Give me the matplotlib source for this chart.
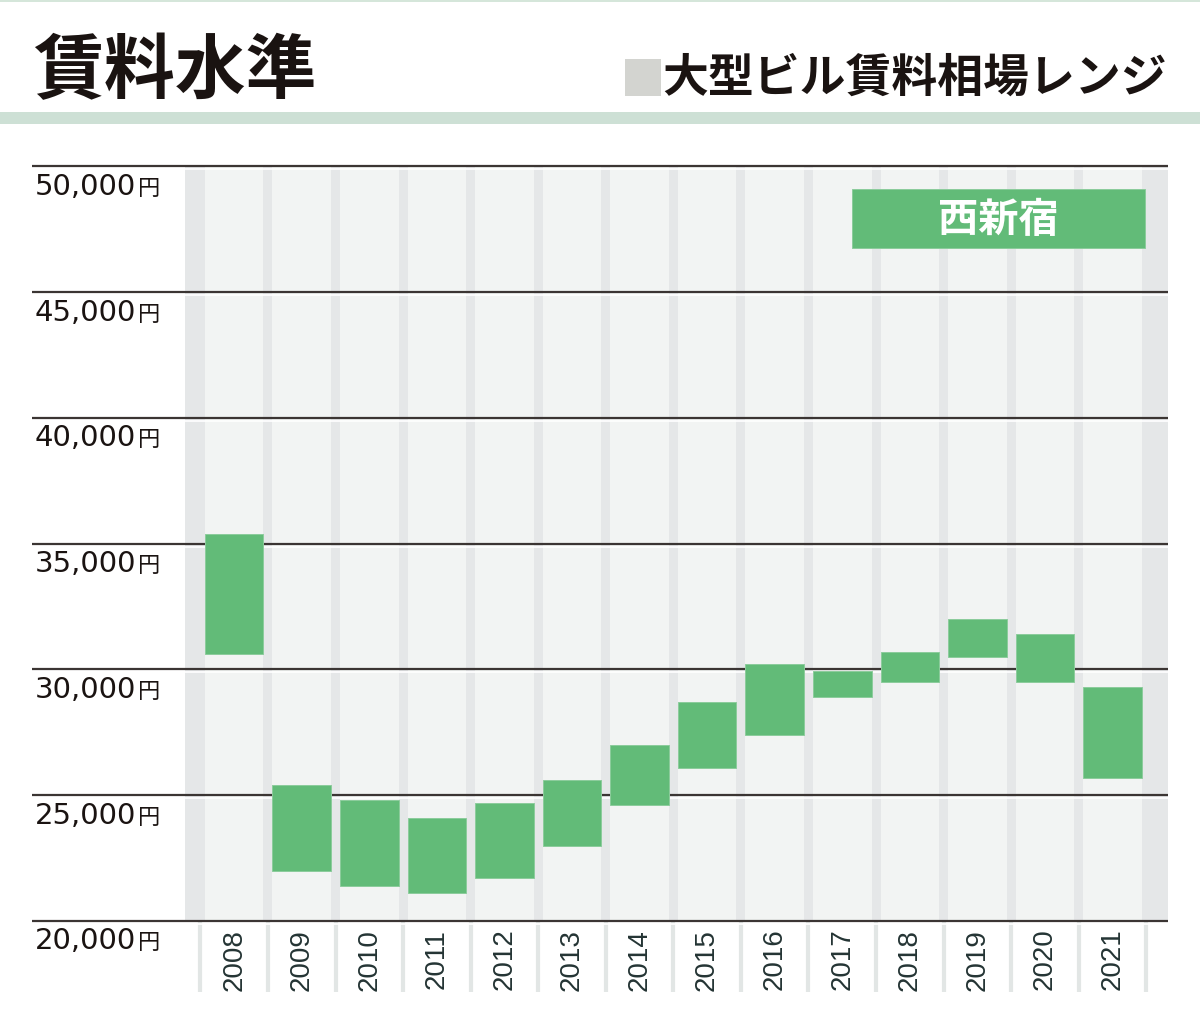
import matplotlib
matplotlib.use("Agg")
import matplotlib.pyplot as plt
import matplotlib.patches as mpatches
from matplotlib import transforms

# ── データ ─────────────────────────────────────────
years = [2008, 2009, 2010, 2011, 2012, 2013, 2014,
         2015, 2016, 2017, 2018, 2019, 2020, 2021]
rent_low = [30600, 22000, 21400, 21100, 21700, 23000, 24600,
            26100, 27400, 28900, 29500, 30500, 29500, 25700]
rent_high = [35400, 25400, 24800, 24100, 24700, 25600, 27000,
             28700, 30200, 29950, 30700, 32000, 31400, 29300]
y_ticks = [20000, 25000, 30000, 35000, 40000, 45000, 50000]

title = "賃料水準"
legend_label = "大型ビル賃料相場レンジ"
area_label = "西新宿"

# ── 色 ───────────────────────────────────────────
C_BAR = "#62bb78"
C_COL = "#f2f4f3"
C_STRIPE = "#e5e7e8"
C_GRID = "#3b3533"
C_TEXT = "#1a1311"
C_YEAR = "#243434"
C_BAND = "#cde0d5"

JP = ["Noto Sans CJK JP", "DejaVu Sans"]

fig = plt.figure(figsize=(12, 10.22), dpi=100, facecolor="white")
W, H = 1200, 1022

# ── ヘッダー ──────────────────────────────────────
fig.add_artist(mpatches.Rectangle((0, 1 - 2 / H), 1, 2 / H, color="#d5e6da",
                                  transform=fig.transFigure, lw=0))
fig.add_artist(mpatches.Rectangle((0, 1 - 124 / H), 1, 12 / H, color=C_BAND,
                                  transform=fig.transFigure, lw=0))
fig.text(33 / W, 1 - 72 / H, title, fontsize=51, fontweight="bold",
         family=JP, color=C_TEXT, ha="left", va="center")
fig.add_artist(mpatches.Rectangle((625 / W, 1 - 96 / H), 36 / W, 37 / H,
                                  color="#d3d4d0", transform=fig.transFigure, lw=0))
fig.text(1167 / W, 1 - 79 / H, legend_label, fontsize=33, fontweight="bold",
         family=JP, color=C_TEXT, ha="right", va="center")

# ── 本体 ─────────────────────────────────────────
ax = fig.add_axes([185 / W, 101 / H, 983.3 / W, 754.5 / H])
ax.set_facecolor(C_STRIPE)
xs = list(range(len(years)))
bw = 0.867

# 列の背景
ax.bar(xs, y_ticks[-1] - y_ticks[0], bottom=y_ticks[0], width=bw,
       color=C_COL, linewidth=0, zorder=0.5)

# 横線 (左のラベル部分まで伸ばす)
off = transforms.ScaledTranslation(0, -3 / 100, fig.dpi_scale_trans)
for v in y_ticks:
    ax.plot([0, 1], [v, v], transform=ax.get_yaxis_transform() + off,
            color="white", lw=1.2, zorder=1, clip_on=False)
    ax.plot([-0.156, 1], [v, v], transform=ax.get_yaxis_transform(),
            color=C_GRID, lw=1.6, zorder=1.2, clip_on=False,
            solid_capstyle="butt")

# 相場レンジの棒
heights = [h - l for l, h in zip(rent_low, rent_high)]
ax.bar(xs, heights, bottom=rent_low, width=bw, color=C_BAR,
       edgecolor="#8ccc9c", linewidth=0.7, zorder=2)

ax.set_xlim(-0.728, len(years) - 1 + 0.826)
ax.set_ylim(y_ticks[0], y_ticks[-1])

# 軸下の縦ストライプ
ax.vlines([i - 0.5 for i in range(len(years) + 1)], -0.094, 0,
          transform=ax.get_xaxis_transform(), color="#e2e6e5", lw=3,
          clip_on=False, zorder=0)

# x 目盛
ax.set_xticks(xs)
ax.set_xticklabels([str(y) for y in years], rotation=90, fontsize=20,
                   family="Liberation Sans", color=C_YEAR)
ax.tick_params(axis="x", length=0, pad=5.5)
ax.set_yticks([])
for s in ax.spines.values():
    s.set_visible(False)

# y ラベル (線の下に配置)
for v in y_ticks:
    ax.annotate(f"{v:,}", xy=(-0.1525, v), xycoords=("axes fraction", "data"),
                xytext=(0, -20.5), textcoords="offset points",
                fontsize=21, family="DejaVu Sans", color=C_TEXT,
                ha="left", va="baseline", annotation_clip=False)
    ax.annotate("円", xy=(-0.0475, v), xycoords=("axes fraction", "data"),
                xytext=(0, -20.5), textcoords="offset points",
                fontsize=16, family=JP, color=C_TEXT,
                ha="left", va="baseline", annotation_clip=False)

# 凡例ボックス
ax.add_patch(mpatches.Rectangle((0.678, 0.892), 0.298, 0.078,
                                transform=ax.transAxes, color=C_BAR,
                                ec="#8ccc9c", lw=0.7, zorder=3))
ax.text(0.827, 0.929, area_label, transform=ax.transAxes, fontsize=29,
        fontweight="bold", family=JP, color="white",
        ha="center", va="center", zorder=4)

fig.savefig("out.png", dpi=100, facecolor=fig.get_facecolor())
